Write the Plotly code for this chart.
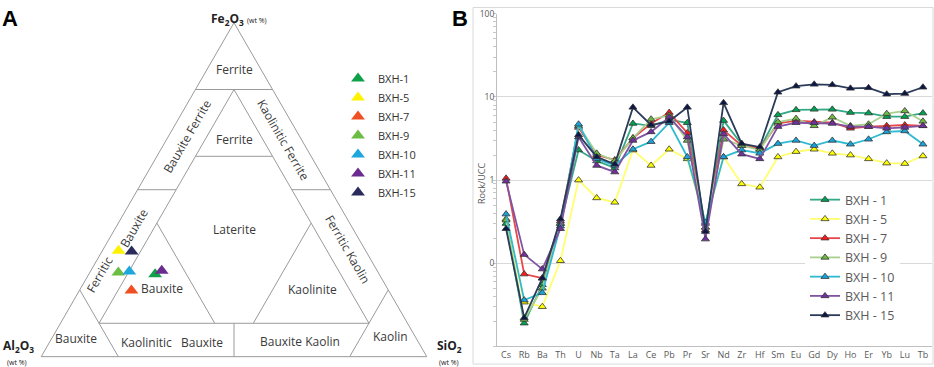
import math
import plotly.graph_objects as go

W, H = 934, 367

# ---------------- Panel A data (ternary, wt %) ----------------
samples = ["BXH-1", "BXH-5", "BXH-7", "BXH-9", "BXH-10", "BXH-11", "BXH-15"]
fe2o3 = [24.7, 31.7, 19.8, 25.2, 25.5, 25.7, 31.5]
al2o3 = [58.1, 64.1, 66.7, 67.4, 64.4, 55.9, 60.8]
sio2 = [17.2, 4.2, 13.5, 7.4, 10.1, 18.4, 7.7]
tern_colors = ["#11a04a", "#fff200", "#f04e23", "#6dbd45", "#1ea7dd", "#6a2c8f", "#2b2a5c"]

# classification boundaries: ((Fe, Al, Si) start, (Fe, Al, Si) end)
boundaries = [
    ((80, 20, 0), (80, 0, 20)),
    ((60, 30, 10), (60, 10, 30)),
    ((80, 10, 10), (10, 80, 10)),
    ((80, 10, 10), (10, 10, 80)),
    ((50, 50, 0), (50, 40, 10)),
    ((50, 10, 40), (50, 0, 50)),
    ((20, 80, 0), (0, 80, 20)),
    ((20, 0, 80), (0, 20, 80)),
    ((10, 80, 10), (10, 10, 80)),
    ((40, 50, 10), (10, 50, 40)),
    ((40, 10, 50), (10, 40, 50)),
    ((10, 45, 45), (0, 50, 50)),
]

# field labels: text, (Fe, Al, Si), rotation
field_labels = [
    ("Ferrite", (86, 7, 7), 0),
    ("Ferrite", (65, 17.5, 17.5), 0),
    ("Bauxite Ferrite", (66, 29, 5), -60),
    ("Kaolinitic Ferrite", (65, 5, 30), 60),
    ("Ferritic", (24.6, 72, 3.4), -60),
    ("Bauxite", (38.4, 56.4, 5.2), -60),
    ("Ferritic Kaolin", (32, 5, 63), 60),
    ("Laterite", (38, 31, 31), 0),
    ("Bauxite", (20.5, 58, 21.5), 0),
    ("Kaolinite", (20, 20, 60), 0),
    ("Bauxite", (5.3, 87.7, 7), 0),
    ("Kaolinitic", (4.1, 70.2, 25.7), 0),
    ("Bauxite", (4.1, 56, 39.9), 0),
    ("Bauxite Kaolin", (4.5, 31, 64.5), 0),
    ("Kaolin", (6, 7, 87), 0),
]

# ---------------- Panel B data (Rock/UCC) ----------------
elements = ["Cs", "Rb", "Ba", "Th", "U", "Nb", "Ta", "La", "Ce", "Pb", "Pr", "Sr",
            "Nd", "Zr", "Hf", "Sm", "Eu", "Gd", "Dy", "Ho", "Er", "Yb", "Lu", "Tb"]
bxh1 = [0.30, 0.019, 0.055, 0.30, 2.3, 1.7, 1.4, 4.8, 4.5, 5.3, 4.9, 0.27,
        5.2, 2.7, 2.4, 6.1, 7.0, 7.1, 7.1, 6.5, 6.4, 5.8, 5.8, 6.4]
bxh5 = [0.34, 0.034, 0.030, 0.107, 1.0, 0.61, 0.54, 2.3, 1.5, 2.35, 1.8, 0.30,
        1.9, 0.9, 0.82, 1.9, 2.2, 2.35, 2.1, 2.0, 1.8, 1.6, 1.58, 1.95]
bxh7 = [1.05, 0.074, 0.066, 0.32, 4.3, 2.0, 1.75, 3.2, 4.8, 6.5, 3.7, 0.25,
        4.0, 2.6, 2.4, 4.8, 5.2, 5.0, 4.9, 4.2, 4.4, 4.5, 4.6, 4.5]
bxh9 = [0.33, 0.021, 0.050, 0.30, 4.5, 2.1, 1.7, 3.2, 5.4, 6.0, 3.0, 0.27,
        3.1, 2.6, 2.3, 5.0, 5.5, 4.5, 5.7, 4.5, 4.7, 6.3, 6.8, 5.1]
bxh10 = [0.39, 0.036, 0.044, 0.28, 4.7, 1.8, 1.5, 2.35, 2.9, 4.9, 1.9, 0.31,
         1.9, 2.3, 2.1, 2.75, 3.0, 2.6, 3.0, 2.7, 3.1, 3.8, 3.9, 2.7]
bxh11 = [0.97, 0.127, 0.085, 0.26, 3.3, 1.5, 1.25, 3.0, 3.8, 5.7, 3.3, 0.195,
         3.6, 2.05, 1.8, 4.4, 4.9, 4.9, 4.8, 4.4, 4.4, 4.2, 4.3, 4.5]
bxh15 = [0.26, 0.022, 0.066, 0.34, 3.5, 1.9, 1.55, 7.5, 4.6, 5.1, 7.5, 0.24,
         8.5, 2.75, 2.5, 11.4, 13.5, 14.2, 14.0, 12.7, 12.9, 10.8, 11.0, 13.1]
spider_names = ["BXH - 1", "BXH - 5", "BXH - 7", "BXH - 9", "BXH - 10", "BXH - 11", "BXH - 15"]
spider_values = [bxh1, bxh5, bxh7, bxh9, bxh10, bxh11, bxh15]
line_colors = ["#34a986", "#ffff6e", "#e8474a", "#a9d18e", "#2fbad0", "#8054a2", "#2b3b5a"]
marker_colors = ["#00a24f", "#ffff00", "#ff1a1a", "#6fb944", "#1ba2dc", "#7030a0", "#0b1746"]

# ---------------- geometry of the ternary subplot ----------------
TW = 392.0
TH = TW * math.sqrt(3) / 2
TX0 = 38.0
TYB = 356.5


def tern_paper(fe, al, si):
    s = fe + al + si
    f, c = fe / s, si / s
    xp = TX0 + TW * (c + f / 2)
    yp = TYB - TH * f
    return xp / W, 1 - yp / H


fig = go.Figure()

# boundaries
ba, bb, bc = [], [], []
for p0, p1 in boundaries:
    for p in (p0, p1):
        ba.append(p[0]); bb.append(p[1]); bc.append(p[2])
    ba.append(None); bb.append(None); bc.append(None)
fig.add_trace(go.Scatterternary(a=ba, b=bb, c=bc, mode="lines", subplot="ternary",
                                line=dict(color="#9a9a9a", width=1), hoverinfo="skip",
                                showlegend=False))

for i, s in enumerate(samples):
    fig.add_trace(go.Scatterternary(
        a=[fe2o3[i]], b=[al2o3[i]], c=[sio2[i]], mode="markers", name=s,
        subplot="ternary", legend="legend2",
        marker=dict(symbol="triangle-up", size=12, color=tern_colors[i], line=dict(width=0))))

for name, vals, lc, mc in zip(spider_names, spider_values, line_colors, marker_colors):
    fig.add_trace(go.Scatter(
        x=elements, y=vals, mode="lines+markers", name=name, legend="legend",
        xaxis="x", yaxis="y",
        line=dict(color=lc, width=1.8),
        marker=dict(symbol="triangle-up", size=7, color=mc, line=dict(color="#333333", width=0.8))))

annotations = []
for text, (fe, al, si), rot in field_labels:
    x, y = tern_paper(fe, al, si)
    annotations.append(dict(x=x, y=y, xref="paper", yref="paper", text=text, showarrow=False,
                            textangle=rot, font=dict(family="Open Sans", size=12, color="#3a3a3a"),
                            xanchor="center", yanchor="middle"))

corner_font = dict(family="Open Sans", size=12, color="#222222")
small = "<span style='font-size:7px;font-weight:normal'>(wt %)</span>"
annotations += [
    dict(x=239 / W, y=1 - 13 / H, text="<b>Fe<sub>2</sub>O<sub>3</sub></b> " + small,
         font=corner_font),
    dict(x=18 / W, y=1 - 346 / H, text="<b>Al<sub>2</sub>O<sub>3</sub></b>", font=corner_font),
    dict(x=17 / W, y=1 - 362 / H, text=small, font=corner_font),
    dict(x=449 / W, y=1 - 346 / H, text="<b>SiO<sub>2</sub></b>", font=corner_font),
    dict(x=449 / W, y=1 - 362 / H, text=small, font=corner_font),
    dict(x=10 / W, y=1 - 13 / H, text="<b>A</b>",
         font=dict(family="Liberation Sans", size=22, color="#000")),
    dict(x=460 / W, y=1 - 13 / H, text="<b>B</b>",
         font=dict(family="Liberation Sans", size=22, color="#000")),
    dict(x=481 / W, y=1 - 180 / H, text="Rock/UCC", textangle=-90,
         font=dict(family="Open Sans", size=9, color="#595959")),
]
for a in annotations[-8:]:
    a.update(xref="paper", yref="paper", showarrow=False, xanchor="center", yanchor="middle")

ax_common = dict(showline=True, linecolor="#9a9a9a", linewidth=1, showgrid=False,
                 showticklabels=False, ticks="", title=dict(text=""))

fig.update_layout(
    width=W, height=H, autosize=False,
    margin=dict(l=0, r=0, t=0, b=0),
    paper_bgcolor="white", plot_bgcolor="white",
    ternary=dict(
        domain=dict(x=[(TX0 - 6) / W, (TX0 + TW + 6) / W], y=[1 - TYB / H, 1 - (TYB - TH) / H]),
        sum=100, bgcolor="white",
        aaxis=ax_common, baxis=ax_common, caxis=ax_common),
    xaxis=dict(domain=[497 / W, 932 / W], type="category", categoryorder="array",
               categoryarray=elements, range=[-0.5, 23.5], showline=True, linecolor="#bfbfbf",
               showgrid=False, ticks="", zeroline=False, anchor="y",
               tickfont=dict(family="Open Sans", size=9, color="#595959")),
    yaxis=dict(domain=[1 - 346 / H, 1 - 8 / H], type="log", range=[-2, 2],
               tickmode="array", tickvals=[0.1, 1, 10, 100], ticktext=["0", "1", "10", "100"],
               showgrid=True, gridcolor="#d9d9d9", gridwidth=1, showline=True, linecolor="#bfbfbf",
               ticks="", zeroline=False, anchor="x",
               tickfont=dict(family="Open Sans", size=8.5, color="#595959"),
               minor=dict(ticks="outside", ticklen=3, tickcolor="#c8c8c8", dtick="D1", showgrid=False)),
    legend=dict(x=805 / W, y=1 - 182 / H, xanchor="left", yanchor="top", bgcolor="white",
                font=dict(family="Open Sans", size=12.5, color="#595959"), tracegroupgap=0),
    legend2=dict(x=338 / W, y=1 - 59 / H, xanchor="left", yanchor="top", bgcolor="rgba(0,0,0,0)",
                 font=dict(family="Open Sans", size=11, color="#333333"), tracegroupgap=0),
    annotations=annotations,
    shapes=[dict(type="rect", xref="paper", yref="paper", x0=473 / W, x1=933 / W,
                 y0=1 - 364 / H, y1=1 - 1.5 / H, line=dict(color="#d9d9d9", width=1),
                 fillcolor="rgba(0,0,0,0)", layer="below")],
)

fig.write_html("out.html", config={"displayModeBar": False},
               post_script="document.body.style.margin='0';document.body.style.overflow='hidden';")
